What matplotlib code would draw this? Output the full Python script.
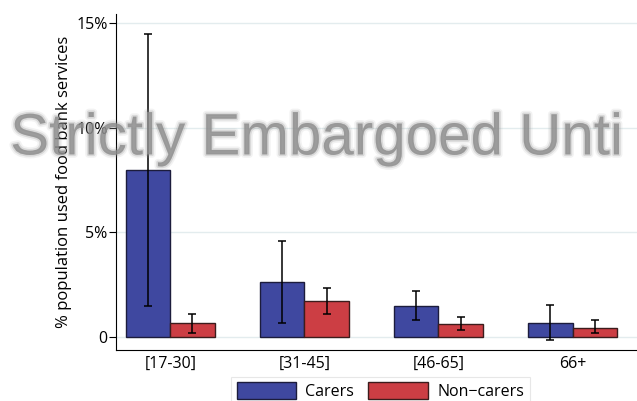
import numpy as np
import matplotlib
matplotlib.use("Agg")
import matplotlib.pyplot as plt
import matplotlib.patheffects as pe

# Data (% of population)
groups = ["[17-30]", "[31-45]", "[46-65]", "66+"]
carers = [7.98, 2.61, 1.47, 0.68]
carers_lo = [1.48, 0.68, 0.81, -0.14]
carers_hi = [14.5, 4.57, 2.18, 1.54]
noncarers = [0.65, 1.70, 0.64, 0.45]
noncarers_lo = [0.18, 1.10, 0.33, 0.18]
noncarers_hi = [1.11, 2.33, 0.96, 0.80]
yticks = [0, 5, 10, 15]
ytick_labels = ["0", "5%", "10%", "15%"]

plt.rcParams['font.family'] = ['Open Sans', 'DejaVu Sans']
fs = 11.5

fig = plt.figure(figsize=(6.37, 4.01), dpi=100)
ax = fig.add_axes([0.182, 0.127, 0.818, 0.838])

x = np.arange(len(groups))
w = 0.33
blue = "#3f48a0"
red = "#cc3e44"

c = np.array(carers)
n = np.array(noncarers)
c_err = [c - np.array(carers_lo), np.array(carers_hi) - c]
n_err = [n - np.array(noncarers_lo), np.array(noncarers_hi) - n]

ax.bar(x - w/2, c, w, color=blue, edgecolor="#1c1c3c", linewidth=1.0,
       label="Carers", zorder=2)
ax.bar(x + w/2, n, w, color=red, edgecolor="#3c1c1c", linewidth=1.0,
       label="Non\u2212carers", zorder=2)
ax.errorbar(x - w/2, c, yerr=c_err, fmt="none", ecolor="black",
            elinewidth=1.1, capsize=3.2, capthick=1.1, zorder=3)
ax.errorbar(x + w/2, n, yerr=n_err, fmt="none", ecolor="black",
            elinewidth=1.1, capsize=3.2, capthick=1.1, zorder=3)

ax.set_xlim(-0.405, 3.48)
ax.set_ylim(-0.62, 15.43)
ax.set_xticks(x)
ax.set_xticklabels(groups, fontsize=fs)
ax.set_yticks(yticks)
ax.set_yticklabels(ytick_labels, fontsize=fs)
ax.tick_params(axis="x", length=0, pad=4)
ax.tick_params(axis="y", length=5, width=0.8, pad=1)
ax.yaxis.grid(True, color="#e3ecee", linewidth=1.0, zorder=0)
ax.set_axisbelow(True)
for s in ["top", "right"]:
    ax.spines[s].set_visible(False)
ax.set_ylabel("% population used food bank services", fontsize=12, labelpad=3)

leg = fig.legend(loc="upper center", bbox_to_anchor=(0.597, 0.08),
                 bbox_transform=fig.transFigure, ncol=2, fontsize=fs,
                 handlelength=3.7, handleheight=1.2, columnspacing=0.9,
                 handletextpad=0.6, fancybox=False, edgecolor="#e2e2e2",
                 borderpad=0.35)
leg.get_frame().set_linewidth(0.8)

# watermark (soft edges faked with faint strokes)
blur = [pe.Stroke(linewidth=5, foreground="#9a9a9a", alpha=0.12),
        pe.Stroke(linewidth=2.5, foreground="#909090", alpha=0.25),
        pe.Normal()]
fig.text(0.016, 0.615, "Strictly Embargoed Unti", fontsize=42,
         family="Liberation Sans", color="#8c8c8c", alpha=0.75,
         va="baseline", ha="left", zorder=10, path_effects=blur)

fig.savefig("out.png", dpi=100)
